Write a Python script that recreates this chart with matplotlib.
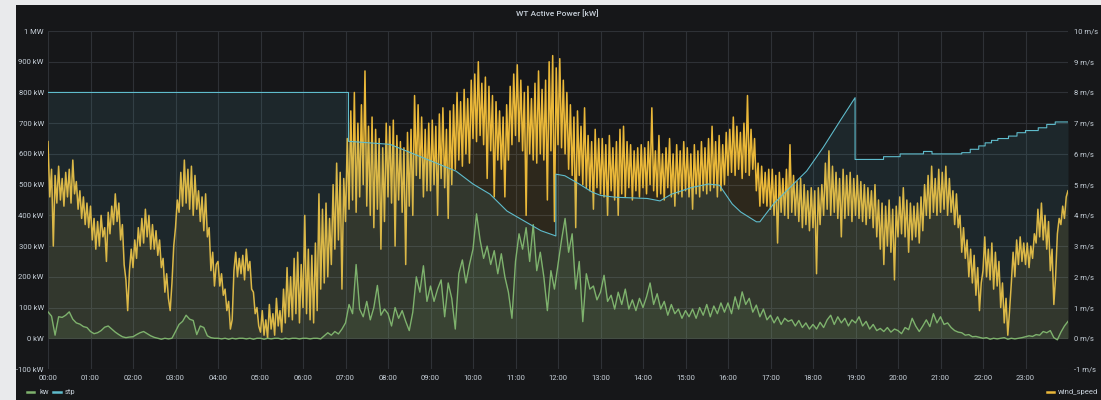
import numpy as np
import matplotlib
matplotlib.use("Agg")
import matplotlib.pyplot as plt
from matplotlib.patches import Rectangle
from matplotlib.lines import Line2D

plt.rcParams['font.family'] = ['Roboto', 'DejaVu Sans']

# wind speed [m/s], one value every 2.5 min, one row per hour
wind_speed = [
    6.4, 4.6, 5.5, 3.0, 5.3, 4.4, 5.6, 4.5, 5.2, 4.3, 5.4, 4.6, 5.5, 4.4, 5.8, 4.7, 5.1, 4.2, 4.8, 3.9, 4.6, 3.7, 4.4, 3.6,
    4.3, 3.2, 3.9, 2.9, 3.8, 3.0, 4.0, 3.3, 3.6, 2.5, 4.1, 3.4, 4.3, 3.7, 4.7, 3.8, 4.4, 3.2, 3.7, 2.4, 1.9, 0.9, 2.2, 2.9,
    2.3, 3.2, 2.6, 3.6, 3.0, 3.9, 3.1, 4.2, 3.3, 4.0, 2.9, 3.7, 2.9, 3.5, 2.7, 3.2, 2.3, 2.6, 1.5, 2.1, 1.3, 0.9, 1.8, 3.0,
    3.6, 4.5, 4.1, 5.4, 4.3, 5.8, 4.4, 5.5, 4.2, 5.6, 4.0, 5.3, 4.2, 4.8, 3.8, 4.6, 3.5, 4.7, 3.3, 3.6, 2.2, 2.8, 1.7, 2.4,
    2.5, 1.7, 2.1, 1.4, 1.6, 0.9, 1.2, 0.3, 0.6, 2.2, 2.8, 2.0, 2.6, 2.1, 2.7, 1.9, 2.9, 2.2, 2.5, 1.6, 1.5, 0.8, 1.0, 0.4,
    0.2, 0.9, 0.1, 0.6, 0.0, 1.1, 0.3, 0.8, 0.1, 1.3, 0.4, 0.9, 0.2, 1.6, 0.5, 2.3, 0.7, 2.0, 0.6, 2.6, 0.8, 2.8, 0.5, 2.4,
    1.0, 4.0, 0.8, 2.9, 0.6, 2.7, 0.5, 3.1, 0.9, 4.7, 1.6, 4.2, 1.8, 4.4, 2.0, 3.9, 2.4, 5.0, 2.9, 5.7, 3.2, 5.4, 1.6, 5.2,
    3.8, 6.5, 4.2, 7.4, 4.5, 8.0, 4.1, 7.0, 4.6, 7.6, 5.0, 8.7, 4.3, 6.9, 4.0, 7.2, 3.6, 6.8, 4.2, 6.5, 2.9, 6.2, 3.8, 7.0,
    4.6, 6.9, 4.4, 7.1, 3.0, 6.6, 4.5, 6.4, 4.1, 6.2, 2.4, 6.7, 4.3, 6.8, 4.0, 7.9, 5.3, 7.6, 5.2, 7.2, 4.6, 6.8, 4.8, 7.0,
    4.8, 7.1, 5.0, 6.9, 4.0, 7.3, 5.2, 7.5, 4.9, 6.8, 3.9, 7.4, 5.0, 7.6, 5.5, 8.0, 5.8, 7.7, 5.6, 8.1, 6.0, 7.8, 5.7, 8.4,
    6.5, 8.6, 6.4, 9.0, 6.6, 8.3, 6.3, 8.5, 5.2, 8.2, 6.1, 7.9, 4.6, 7.7, 5.8, 7.4, 5.5, 7.2, 4.6, 7.6, 5.8, 8.2, 6.3, 8.6,
    6.6, 8.9, 6.4, 8.4, 6.1, 8.0, 4.0, 8.2, 6.0, 7.8, 5.8, 8.3, 5.7, 8.7, 6.0, 8.1, 5.8, 8.4, 4.5, 9.0, 6.1, 9.2, 3.8, 8.8,
    6.3, 9.1, 6.2, 8.4, 6.0, 8.0, 5.5, 7.6, 5.3, 7.2, 3.6, 7.4, 5.3, 6.9, 5.0, 7.5, 4.9, 6.6, 4.8, 6.4, 4.2, 6.8, 4.9, 6.5,
    4.7, 6.5, 4.6, 6.3, 4.0, 6.6, 4.8, 6.2, 4.5, 6.4, 4.0, 6.8, 4.7, 6.9, 4.6, 6.4, 4.9, 6.3, 4.5, 6.1, 4.8, 6.2, 4.6, 6.3,
    4.9, 6.2, 4.7, 6.4, 5.0, 7.5, 4.8, 6.1, 4.6, 6.6, 4.7, 6.0, 4.5, 6.2, 4.9, 6.5, 4.6, 6.0, 4.3, 6.3, 4.7, 6.1, 4.6, 6.4,
    4.8, 6.2, 4.6, 6.0, 4.2, 6.3, 4.7, 6.1, 4.6, 6.4, 4.8, 6.2, 4.7, 6.5, 4.8, 6.9, 4.9, 6.4, 4.6, 6.6, 4.8, 6.3, 5.0, 6.7,
    5.3, 6.8, 5.4, 7.2, 5.3, 6.9, 5.5, 6.7, 5.2, 7.0, 5.4, 7.9, 5.3, 6.8, 5.5, 6.5, 4.8, 5.7, 4.3, 5.6, 4.4, 5.4, 4.3, 5.5,
    4.2, 5.5, 4.0, 5.3, 3.1, 5.4, 4.1, 5.2, 4.0, 5.5, 3.9, 6.3, 4.1, 5.3, 4.0, 5.1, 3.8, 5.2, 3.6, 5.0, 3.7, 4.8, 3.5, 4.9,
    3.6, 4.8, 2.1, 4.9, 3.7, 5.0, 4.0, 5.7, 4.2, 6.1, 4.0, 5.6, 4.1, 5.4, 3.9, 5.2, 3.3, 5.5, 3.9, 5.3, 4.0, 5.4, 3.8, 5.2,
    4.0, 5.3, 3.9, 5.1, 3.8, 5.0, 3.7, 4.9, 3.9, 4.8, 3.6, 5.0, 3.3, 4.5, 2.9, 4.4, 2.4, 4.3, 3.0, 4.5, 2.8, 4.2, 1.9, 4.3,
    3.3, 4.6, 3.4, 4.9, 3.3, 4.5, 2.8, 4.4, 3.2, 4.3, 3.3, 4.4, 3.1, 4.6, 3.5, 5.0, 4.0, 5.3, 3.9, 5.6, 4.1, 5.2, 4.0, 5.5,
    4.1, 5.4, 4.2, 5.6, 4.0, 5.2, 4.1, 4.8, 3.7, 4.7, 3.6, 4.0, 2.8, 3.6, 2.6, 3.2, 2.0, 2.9, 1.8, 2.7, 1.4, 2.3, 0.9, 1.8,
    2.2, 3.3, 2.0, 2.9, 1.9, 3.1, 1.6, 2.8, 1.7, 2.5, 1.0, 1.8, 0.5, 1.3, 0.1, 0.9, 1.8, 2.8, 2.0, 3.2, 2.4, 3.3, 2.5, 3.1,
    2.4, 3.1, 2.3, 3.0, 2.6, 3.4, 3.1, 4.2, 3.3, 4.4, 3.2, 4.0, 2.9, 3.8, 2.2, 2.9, 1.1, 2.0, 3.4, 3.9, 3.7, 4.3, 3.9, 4.6,
    4.8,
]

# active power [kW], one value every 5 min, one row per hour
kw = [
    86, 72, 10, 70, 68, 75, 86, 62, 50, 46, 38, 35,
    22, 15, 18, 25, 36, 40, 30, 20, 12, 5, 2, 4,
    5, 12, 18, 22, 15, 8, 3, 0, -3, 0, -2, 0,
    22, 45, 55, 75, 62, 58, 12, 40, 35, 8, 2, 0,
    0, -2, 0, -3, 0, -2, 0, 0, -2, 0, -3, 0,
    0, -3, 0, -2, 0, 0, -3, 0, -2, 0, 0, -2,
    0, 0, -2, 0, 0, -2, 8, 18, 10, 22, 14, 30,
    50, 110, 80, 240, 95, 70, 120, 60, 100, 172, 75, 95,
    80, 40, 100, 65, 90, 55, 25, 85, 200, 150, 236, 120,
    170, 120, 160, 190, 70, 180, 130, 30, 210, 255, 180, 240,
    290, 405, 320, 260, 300, 240, 285, 210, 275, 200, 150, 65,
    250, 340, 290, 360, 250, 370, 220, 280, 200, 90, 220, 160,
    240, 320, 390, 280, 340, 160, 250, 54, 210, 160, 170, 125,
    150, 205, 120, 140, 95, 150, 110, 160, 95, 125, 90, 130,
    100, 135, 180, 110, 145, 95, 120, 75, 110, 80, 95, 65,
    90, 70, 95, 65, 100, 75, 110, 70, 105, 80, 115, 85,
    115, 80, 135, 95, 151, 110, 130, 85, 108, 70, 95, 60,
    75, 50, 70, 45, 65, 55, 60, 40, 58, 35, 50, 30,
    45, 30, 52, 35, 60, 75, 45, 70, 50, 65, 40, 60,
    50, 70, 40, 55, 30, 45, 25, 32, 22, 35, 20, 30,
    25, 15, 35, 28, 65, 40, 22, 40, 60, 38, 80, 50,
    70, 45, 50, 35, 25, 20, 18, 10, 12, 5, 6, 3,
    0, 2, -3, 0, -2, 0, 2, -3, 0, -2, 0, 2,
    5, 8, 6, 12, 10, 22, 18, 25, 2, -5, 20, 40,
    55,
]

# set point [kW], breakpoints (hour of day, value)
stp_hours = [0, 7.07, 7.07, 8.05, 8.8, 9.6, 10.0, 10.4, 10.8, 11.2, 11.6, 11.95, 11.95,
             12.16, 12.5, 12.8, 13.0, 13.35, 14.1, 14.4, 14.67, 15.15, 15.54, 15.8, 16.1,
             16.3, 16.67, 16.75, 17.07, 17.46, 17.85, 18.24, 18.63, 18.99, 18.99, 19.66,
             19.66, 20.05, 20.05, 20.6, 20.6, 20.8, 20.8, 21.5, 21.5, 21.7, 21.7, 21.9,
             21.9, 22.05, 22.05, 22.2, 22.2, 22.35, 22.35, 22.6, 22.6, 22.8, 22.8, 23.0,
             23.0, 23.3, 23.3, 23.5, 23.5, 23.7, 23.7, 24.0]
stp = [800, 800, 641, 631, 589, 544, 502, 469, 414, 382, 350, 333, 534,
       529, 502, 476, 465, 459, 455, 447, 469, 491, 502, 498, 437,
       411, 379, 379, 437, 491, 544, 621, 706, 783, 582, 582,
       591, 591, 600, 600, 608, 608, 600, 600, 604, 604, 615, 615,
       626, 626, 636, 636, 644, 644, 650, 650, 658, 658, 669, 669,
       676, 676, 685, 685, 696, 696, 704, 704]

hour_labels = ["%02d:00" % h for h in range(24)]
kw_ticks = [-100, 0, 100, 200, 300, 400, 500, 600, 700, 800, 900, 1000]
kw_labels = ["-100 kW", "0 kW", "100 kW", "200 kW", "300 kW", "400 kW", "500 kW",
             "600 kW", "700 kW", "800 kW", "900 kW", "1 MW"]
ms_ticks = list(range(-1, 11))
ms_labels = ["%d m/s" % v for v in ms_ticks]

BG = "#161719"
TXT = "#c7d0d9"
GREEN = "#7eb26d"
BLUE = "#5fbccc"
YELLOW = "#eab839"

t_wind = np.arange(len(wind_speed)) * 24.0 / (len(wind_speed) - 1)
t_kw = np.arange(len(kw)) * 24.0 / (len(kw) - 1)

fig = plt.figure(figsize=(11.01, 4.0), dpi=100, facecolor="#e9eaec")
fig.add_artist(Rectangle((16 / 1101, 0), 1 - 16 / 1101, 395 / 400,
                         transform=fig.transFigure, facecolor=BG, edgecolor="none", zorder=0))

ax2 = fig.add_axes([48 / 1101, 31 / 400, 1020 / 1101, 338 / 400])
ax = ax2.twinx()
ax.yaxis.tick_left()
ax2.yaxis.tick_right()
ax.set_zorder(ax2.get_zorder() + 1)
ax.patch.set_visible(False)
ax2.patch.set_visible(False)

# wind speed on right axis
ax2.fill_between(t_wind, 0, wind_speed, color=YELLOW, alpha=0.11, lw=0)
ax2.plot(t_wind, wind_speed, color=YELLOW, lw=1.1)
ax2.set_ylim(-1, 10)

# kw / stp on left axis
ax.fill_between(stp_hours, 0, stp, color=BLUE, alpha=0.1, lw=0)
ax.fill_between(t_kw, 0, kw, color=GREEN, alpha=0.1, lw=0)
ax.plot(t_kw, kw, color=GREEN, lw=1.0)
ax.plot(stp_hours, stp, color=BLUE, lw=0.8)
ax.set_ylim(-100, 1000)

for a in (ax, ax2):
    a.set_xlim(0, 24)
    for s in a.spines.values():
        s.set_visible(False)
    a.tick_params(length=0, colors=TXT, labelsize=5.5)

ax2.set_xticks(range(24))
ax2.set_xticklabels(hour_labels)
ax2.tick_params(axis="x", pad=4)
ax2.set_yticks(ms_ticks)
ax2.set_yticklabels(ms_labels)
ax2.tick_params(axis="y", pad=4)
ax.set_yticks(kw_ticks)
ax.set_yticklabels(kw_labels)
ax.tick_params(axis="y", pad=3)
ax2.grid(True, color="#2e3136", lw=0.8)
ax2.set_axisbelow(True)

fig.text(557 / 1101, 1 - 13 / 400, "WT Active Power [kW]", color=TXT, fontsize=6,
         ha="center", va="center", fontweight="medium")

# legends
ly = 1 - 392 / 400
fig.add_artist(Line2D([27 / 1101, 34 / 1101], [ly, ly], color=GREEN, lw=1.8))
fig.text(39 / 1101, ly, "kw", color=TXT, fontsize=5.5, va="center")
fig.add_artist(Line2D([53 / 1101, 61 / 1101], [ly, ly], color=BLUE, lw=1.8))
fig.text(65 / 1101, ly, "stp", color=TXT, fontsize=5.5, va="center")
fig.add_artist(Line2D([1047 / 1101, 1054 / 1101], [ly, ly], color=YELLOW, lw=1.8))
fig.text(1058 / 1101, ly, "wind_speed", color=TXT, fontsize=5.5, va="center")

fig.savefig("out.png", dpi=100, facecolor=fig.get_facecolor())
